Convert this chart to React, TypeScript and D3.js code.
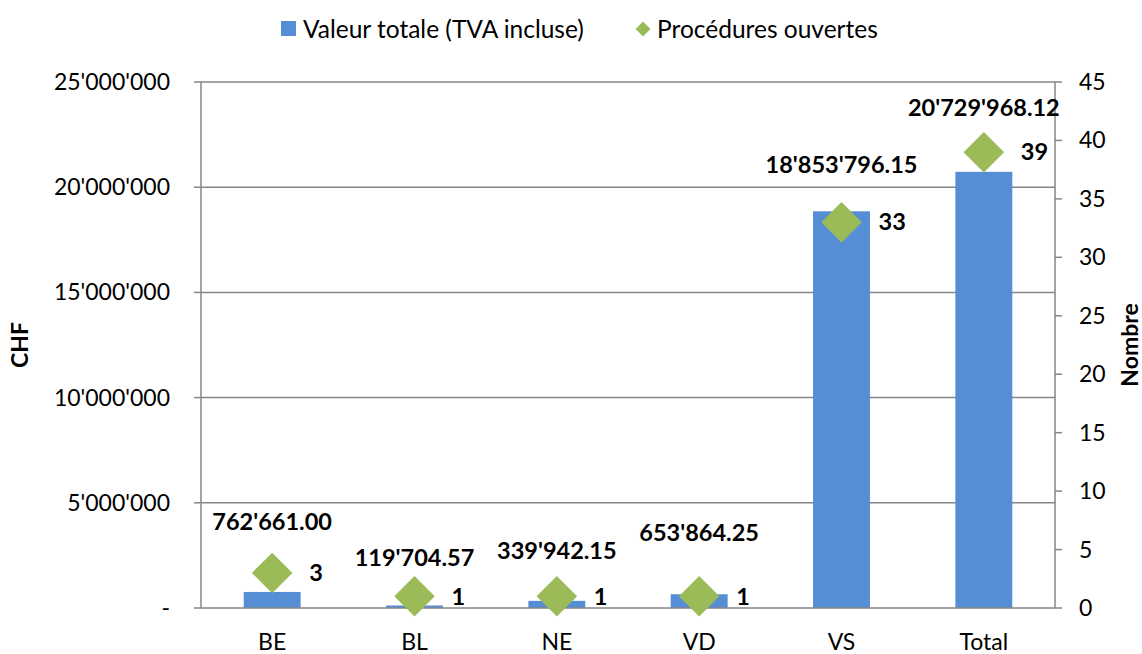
import React, { useEffect, useRef } from "react";
import * as d3 from "d3";

const categories = ["BE", "BL", "NE", "VD", "VS", "Total"];
const totalValues = [762661.0, 119704.57, 339942.15, 653864.25, 18853796.15, 20729968.12];
const procedures = [3, 1, 1, 1, 33, 39];
const leftTicks = [0, 5000000, 10000000, 15000000, 20000000, 25000000];
const rightTicks = [0, 5, 10, 15, 20, 25, 30, 35, 40, 45];
// vertical offset of each value label above its diamond
const labelLift = [51, 39, 46, 64, 57, 44];

const FONT = "Lato, 'Open Sans', sans-serif";

const fmtChf = (v: number) => {
  const [int, dec] = v.toFixed(2).split(".");
  return int.replace(/\B(?=(\d{3})+(?!\d))/g, "'") + "." + dec;
};
const fmtTick = (v: number) =>
  v === 0 ? "-" : String(v).replace(/\B(?=(\d{3})+(?!\d))/g, "'");

const App: React.FC = () => {
  const svg = useRef<SVGSVGElement>(null);
  const width = 1142;
  const height = 654;
  const margin = { left: 201, right: 87, top: 82, bottom: 46 };

  useEffect(() => {
    const s = d3.select(svg.current);
    s.selectAll("*").remove();
    const x0 = margin.left;
    const x1 = width - margin.right;
    const y0 = height - margin.bottom;
    const y1 = margin.top;

    const x = d3.scaleBand<string>().domain(categories).range([x0, x1]).padding(0);
    const yL = d3.scaleLinear().domain([0, 25000000]).range([y0, y1]);
    const yR = d3.scaleLinear().domain([0, 45]).range([y0, y1]);
    const barW = x.bandwidth() / 2.5;
    const axisColor = "#868686";

    // gridlines
    s.append("g")
      .selectAll("line")
      .data(leftTicks.slice(1))
      .join("line")
      .attr("x1", x0)
      .attr("x2", x1)
      .attr("y1", (d) => yL(d))
      .attr("y2", (d) => yL(d))
      .attr("stroke", axisColor)
      .attr("stroke-width", 1.5);

    // bars
    s.append("g")
      .selectAll("rect")
      .data(categories)
      .join("rect")
      .attr("x", (d) => x(d)! + x.bandwidth() / 2 - barW / 2)
      .attr("width", barW)
      .attr("y", (_, i) => yL(totalValues[i]))
      .attr("height", (_, i) => y0 - yL(totalValues[i]))
      .attr("fill", "#558ED5");

    // left axis
    const gl = s.append("g");
    gl.append("line")
      .attr("x1", x0).attr("x2", x0).attr("y1", y1).attr("y2", y0)
      .attr("stroke", axisColor).attr("stroke-width", 1.5);
    gl.selectAll("line.t")
      .data(leftTicks)
      .join("line")
      .attr("class", "t")
      .attr("x1", x0 - 7).attr("x2", x0)
      .attr("y1", (d) => yL(d)).attr("y2", (d) => yL(d))
      .attr("stroke", axisColor).attr("stroke-width", 1.5);
    gl.selectAll("text")
      .data(leftTicks)
      .join("text")
      .attr("x", 170)
      .attr("y", (d) => yL(d))
      .attr("dy", "0.35em")
      .attr("text-anchor", "end")
      .attr("font-family", FONT)
      .attr("font-size", 23)
      .attr("fill", "#000")
      .text((d) => fmtTick(d));

    // right axis
    const gr = s.append("g");
    gr.append("line")
      .attr("x1", x1).attr("x2", x1).attr("y1", y1).attr("y2", y0)
      .attr("stroke", axisColor).attr("stroke-width", 1.5);
    gr.selectAll("line.t")
      .data(rightTicks)
      .join("line")
      .attr("class", "t")
      .attr("x1", x1).attr("x2", x1 + 7)
      .attr("y1", (d) => yR(d)).attr("y2", (d) => yR(d))
      .attr("stroke", axisColor).attr("stroke-width", 1.5);
    gr.selectAll("text")
      .data(rightTicks)
      .join("text")
      .attr("x", 1079)
      .attr("y", (d) => yR(d))
      .attr("dy", "0.35em")
      .attr("font-family", FONT)
      .attr("font-size", 23)
      .attr("fill", "#000")
      .text((d) => String(d));

    // bottom axis line
    s.append("line")
      .attr("x1", x0).attr("x2", x1).attr("y1", y0).attr("y2", y0)
      .attr("stroke", axisColor).attr("stroke-width", 1.5);

    // category labels
    s.append("g")
      .selectAll("text")
      .data(categories)
      .join("text")
      .attr("x", (d) => x(d)! + x.bandwidth() / 2)
      .attr("y", 642)
      .attr("dy", "0.35em")
      .attr("text-anchor", "middle")
      .attr("font-family", FONT)
      .attr("font-size", 23)
      .text((d) => d);

    // diamonds
    const diamond = d3.symbol().type(d3.symbolSquare).size(820);
    s.append("g")
      .selectAll("path")
      .data(categories)
      .join("path")
      .attr("d", diamond)
      .attr(
        "transform",
        (d, i) => `translate(${x(d)! + x.bandwidth() / 2},${yR(procedures[i])}) rotate(45)`
      )
      .attr("fill", "#9BBB59");

    // procedure labels
    s.append("g")
      .selectAll("text")
      .data(categories)
      .join("text")
      .attr("x", (d) => x(d)! + x.bandwidth() / 2 + 37)
      .attr("y", (_, i) => yR(procedures[i]))
      .attr("dy", "0.35em")
      .attr("font-family", FONT)
      .attr("font-size", 23.5)
      .attr("font-weight", "bold")
      .text((_, i) => String(procedures[i]));

    // value labels
    s.append("g")
      .selectAll("text")
      .data(categories)
      .join("text")
      .attr("x", (d) => x(d)! + x.bandwidth() / 2)
      .attr("y", (_, i) => yR(procedures[i]) - labelLift[i])
      .attr("dy", "0.35em")
      .attr("text-anchor", "middle")
      .attr("font-family", FONT)
      .attr("font-size", 23.5)
      .attr("font-weight", "bold")
      .text((_, i) => fmtChf(totalValues[i]));

    // axis titles
    s.append("text")
      .attr("transform", `translate(20,${(y0 + y1) / 2}) rotate(-90)`)
      .attr("dy", "0.35em")
      .attr("text-anchor", "middle")
      .attr("font-family", FONT)
      .attr("font-size", 23)
      .attr("font-weight", "bold")
      .text("CHF");
    s.append("text")
      .attr("transform", `translate(1130,${(y0 + y1) / 2}) rotate(-90)`)
      .attr("dy", "0.35em")
      .attr("text-anchor", "middle")
      .attr("font-family", FONT)
      .attr("font-size", 23)
      .attr("font-weight", "bold")
      .text("Nombre");

    // legend
    const lg = s.append("g");
    lg.append("rect").attr("x", 281).attr("y", 21).attr("width", 15).attr("height", 15).attr("fill", "#558ED5");
    lg.append("text")
      .attr("x", 303).attr("y", 29).attr("dy", "0.35em")
      .attr("font-family", FONT).attr("font-size", 24.5)
      .text("Valeur totale (TVA incluse)");
    lg.append("path")
      .attr("d", d3.symbol().type(d3.symbolSquare).size(110)())
      .attr("transform", "translate(643,29) rotate(45)")
      .attr("fill", "#9BBB59");
    lg.append("text")
      .attr("x", 657).attr("y", 29).attr("dy", "0.35em")
      .attr("font-family", FONT).attr("font-size", 24.5)
      .text("Procédures ouvertes");
  }, []);

  return (
    <svg
      ref={svg}
      width={width}
      height={height}
      style={{ position: "absolute", left: 0, top: 0, background: "#fff" }}
    />
  );
};

export default App;
